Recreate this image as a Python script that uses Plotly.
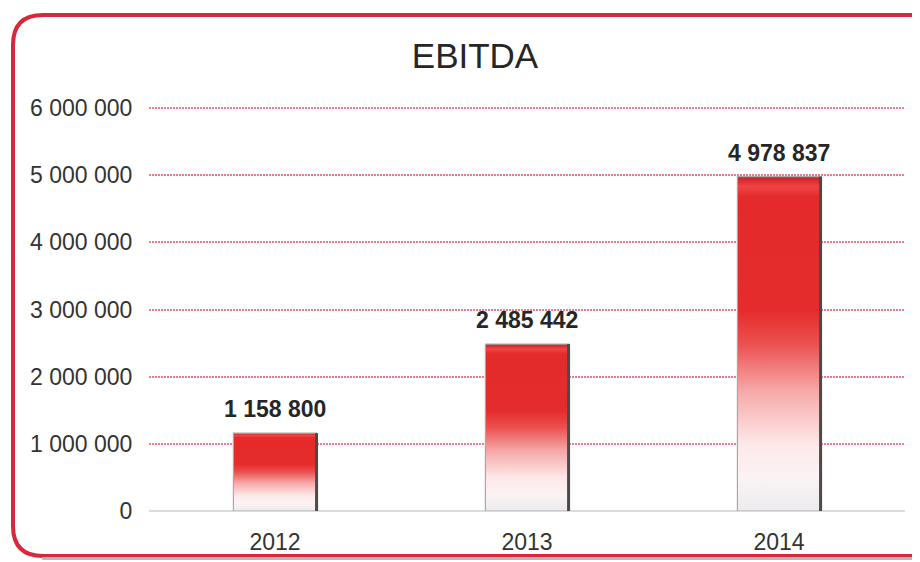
import plotly.graph_objects as go

# ---- data ----
years = ["2012", "2013", "2014"]
ebitda = [1158800, 2485442, 4978837]
y_ticks = [0, 1000000, 2000000, 3000000, 4000000, 5000000, 6000000]
y_max = 6030000
title_text = "EBITDA"

# ---- layout geometry (pixels; page body has an 8px margin) ----
OFF = 8
W, H = 920 - OFF, 562 - OFF
L, R, T, B = 149 - OFF, 15, 98, 51
PW, PH = W - L - R, H - T - B
BAR_W = 0.33

def px(x):  # reference-screen x -> paper
    return (x - OFF - L) / PW

def py(y):  # reference-screen y -> paper
    return (H - B - (y - OFF)) / PH

fig = go.Figure()

# invisible bars (data carriers)
fig.add_trace(go.Bar(
    x=list(range(len(years))), y=ebitda, width=BAR_W,
    marker=dict(color="rgba(0,0,0,0)", line=dict(width=0)),
    hoverinfo="skip", showlegend=False,
))

grad = [[0.0, "#ecebee"], [0.1, "#fbf3f4"], [0.2, "#fde8e9"],
        [0.36, "#f6a8a8"], [0.5, "#ec5050"], [0.6, "#e52c2c"],
        [0.94, "#e42a2a"], [0.97, "#f04545"], [1.0, "#c81e26"]]

for i, v in enumerate(ebitda):
    x0, x1 = i - BAR_W / 2, i + BAR_W / 2
    fig.add_trace(go.Scatter(
        x=[x0, x1, x1, x0, x0], y=[0, 0, v, v, 0],
        mode="lines", fill="toself",
        fillgradient=dict(type="vertical", colorscale=grad),
        line=dict(color="#a8a8a8", width=1.2),
        hoverinfo="skip", showlegend=False,
    ))
    # darker right edge
    fig.add_trace(go.Scatter(
        x=[x1, x1], y=[0, v], mode="lines",
        line=dict(color="#4a4a4a", width=3),
        hoverinfo="skip", showlegend=False,
    ))
    fig.add_annotation(
        x=i, y=v, text="<b>" + f"{v:,}".replace(",", " ") + "</b>",
        showarrow=False, yanchor="bottom", yshift=9,
        font=dict(family="Liberation Sans, Arial", size=23, color="#262626"),
    )

# rounded border
def rrect(x0, y0, x1, y1, r):
    pts = [
        ("M", x0 + r, y0), ("L", x1 - r, y0), ("Q", x1, y0, x1, y0 + r),
        ("L", x1, y1 - r), ("Q", x1, y1, x1 - r, y1), ("L", x0 + r, y1),
        ("Q", x0, y1, x0, y1 - r), ("L", x0, y0 + r), ("Q", x0, y0, x0 + r, y0),
    ]
    s = ""
    for p in pts:
        if p[0] == "Q":
            s += f"Q {px(p[1])},{py(p[2])} {px(p[3])},{py(p[4])} "
        else:
            s += f"{p[0]} {px(p[1])},{py(p[2])} "
    return s + "Z"

fig.add_shape(type="path", xref="paper", yref="paper",
              path=rrect(13, 15, 940, 556, 30),
              line=dict(color="#d8283c", width=4), layer="below")
fig.add_shape(type="line", xref="paper", yref="paper",
              x0=px(42), x1=px(920), y0=py(558.5), y1=py(558.5),
              line=dict(color="#b9b9b9", width=3))

fig.update_layout(
    width=W, height=H,
    margin=dict(l=L, r=R, t=T, b=B, autoexpand=False),
    paper_bgcolor="white", plot_bgcolor="white",
    separators=", ",
    showlegend=False,
    title=dict(text=title_text, x=(475 - OFF) / W, xanchor="center",
               y=1 - (56 - OFF) / H, yanchor="middle", yref="container",
               font=dict(family="Liberation Sans, Arial", size=35, color="#262626")),
    font=dict(family="Liberation Sans, Arial", color="#333333"),
)
fig.update_xaxes(
    range=[-0.5, 2.5], tickvals=list(range(len(years))), ticktext=years,
    showgrid=False, zeroline=False, showline=False, automargin=False,
    ticks="outside", ticklen=10, tickcolor="rgba(0,0,0,0)",
    tickfont=dict(size=23, color="#333333"), fixedrange=True,
)
fig.update_yaxes(
    range=[0, y_max], tickvals=y_ticks, tickformat=",d", automargin=False,
    showgrid=True, gridcolor="#ef7a8e", griddash="2px,1px", gridwidth=1.5,
    zeroline=True, zerolinecolor="#dcdcdc", zerolinewidth=1.5,
    showline=False, ticks="outside", ticklen=11, tickcolor="rgba(0,0,0,0)",
    tickfont=dict(size=23, color="#333333"), fixedrange=True,
)

fig.write_html("out.html")
